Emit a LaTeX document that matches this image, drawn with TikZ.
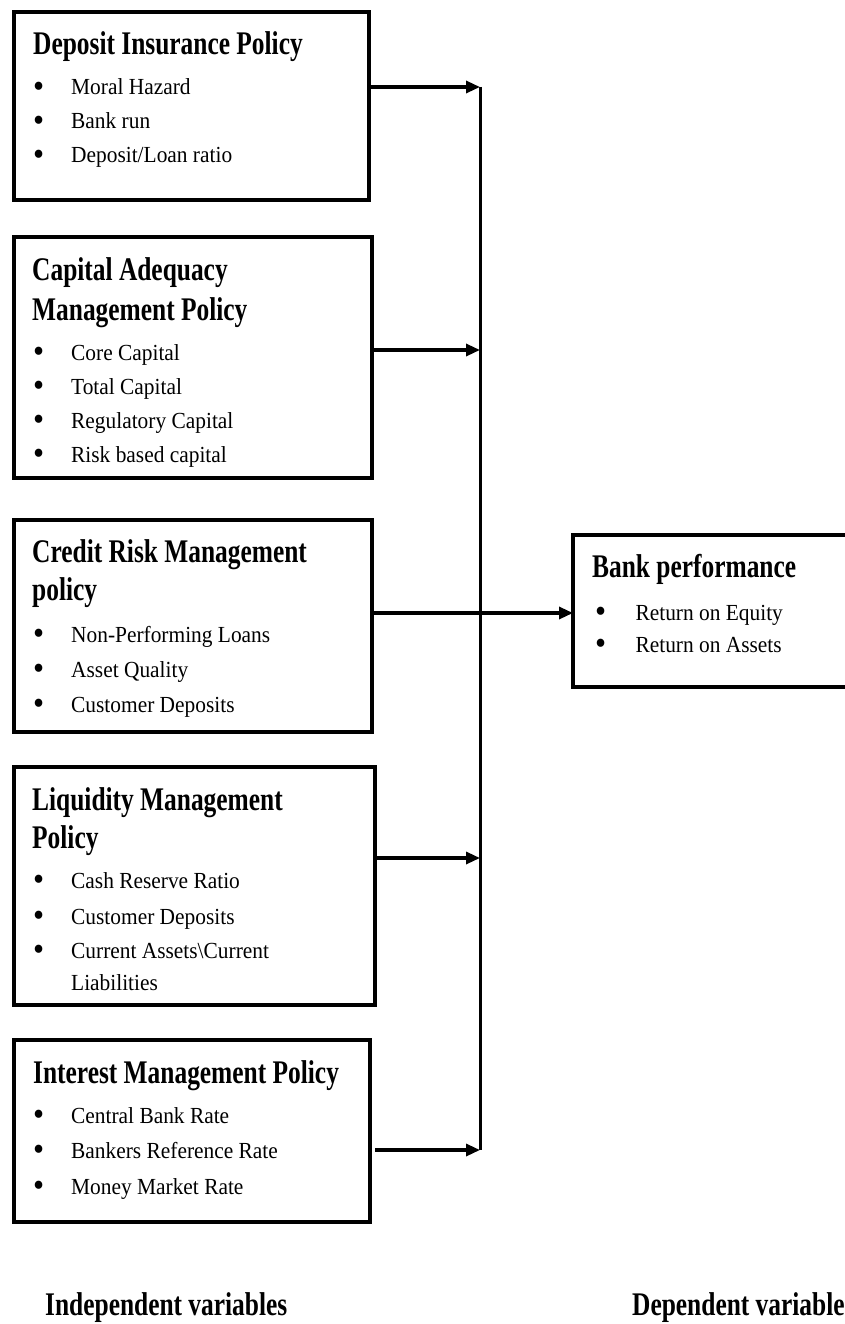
\documentclass[tikz,border=0pt]{standalone}
\usepackage{fontspec}
\setmainfont{Liberation Serif}
\newfontfamily\titlef[FakeStretch=0.77]{Liberation Serif}
\newfontfamily\itemf[FakeStretch=0.93]{Liberation Serif}
\usetikzlibrary{arrows.meta}
\tikzset{
  pbox/.style={draw,line width=3.5pt,inner sep=0pt,outer sep=0pt},
  ttl/.style={anchor=base west,inner sep=0pt,font=\titlef\bfseries\fontsize{33}{33}\selectfont},
  itm/.style={anchor=base west,inner sep=0pt,font=\itemf\fontsize{23}{23}\selectfont},
  arr/.style={line width=3.2pt,-{Triangle[length=14pt,width=12pt]}},
  spine/.style={line width=3pt}
}
\newcommand{\bul}[1][38pt]{\makebox[#1][l]{\raisebox{-2.5pt}{\fontsize{34}{23}\selectfont •}}}
\begin{document}
\begin{tikzpicture}[x=1pt,y=-1pt]
\useasboundingbox (0,0) rectangle (845,1324);
% boxes
\node[pbox,minimum width=355pt,minimum height=188pt] (b1) at (191.5,106) {};
\node[pbox,minimum width=358pt,minimum height=241pt] (b2) at (193,357.5) {};
\node[pbox,minimum width=358pt,minimum height=212pt] (b3) at (193,626) {};
\node[pbox,minimum width=361pt,minimum height=238pt] (b4) at (194.5,886) {};
\node[pbox,minimum width=356pt,minimum height=182pt] (b5) at (192,1131) {};
\node[pbox,minimum width=277pt,minimum height=152pt] (rb) at (711.5,611) {};
% box 1
\node[ttl] (b1t) at (33,55) {Deposit Insurance Policy};
\node[itm] (b1a) at (33,95) {\bul Moral Hazard};
\node[itm] (b1b) at (33,129) {\bul Bank run};
\node[itm] (b1c) at (33,163) {\bul Deposit/Loan ratio};
% box 2
\node[ttl] (b2t) at (32,280) {Capital Adequacy};
\node[ttl] (b2u) at (32,320) {Management Policy};
\node[itm] (b2a) at (33,360) {\bul Core Capital};
\node[itm] (b2b) at (33,394) {\bul Total Capital};
\node[itm] (b2c) at (33,428) {\bul Regulatory Capital};
\node[itm] (b2d) at (33,462) {\bul Risk based capital};
% box 3
\node[ttl] (b3t) at (32,562) {Credit Risk Management};
\node[ttl] (b3u) at (32,600) {policy};
\node[itm] (b3a) at (33,642) {\bul Non-Performing Loans};
\node[itm] (b3b) at (33,677) {\bul Asset Quality};
\node[itm] (b3c) at (33,712) {\bul Customer Deposits};
% box 4
\node[ttl] (b4t) at (32,810) {Liquidity Management};
\node[ttl] (b4u) at (32,848) {Policy};
\node[itm] (b4a) at (33,888) {\bul Cash Reserve Ratio};
\node[itm] (b4b) at (33,924) {\bul Customer Deposits};
\node[itm] (b4c) at (33,958) {\bul Current Assets\textbackslash Current};
\node[itm] (b4d) at (71,990) {Liabilities};
% box 5
\node[ttl] (b5t) at (33,1083) {Interest Management Policy};
\node[itm] (b5a) at (33,1123) {\bul Central Bank Rate};
\node[itm] (b5b) at (33,1158) {\bul Bankers Reference Rate};
\node[itm] (b5c) at (33,1194) {\bul Money Market Rate};
% right box
\node[ttl] (rbt) at (592,577) {Bank performance};
\node[itm] (rba) at (595,620) {\bul[35pt] Return on Equity};
\node[itm] (rbb) at (595,652) {\bul[35pt] Return on Assets};
% bottom labels
\node[ttl] (iv) at (45,1315) {Independent variables};
\node[ttl] (dv) at (632,1315) {Dependent variable};
% connectors
\coordinate (j1) at (480,87);
\coordinate (j2) at (480,350);
\coordinate (j3) at (480,613);
\coordinate (j4) at (480,858);
\coordinate (j5) at (480,1150);
\draw[spine] (j1) -- (j5);
\draw[arr] (b1.east |- j1) -- (j1);
\draw[arr] (b2.east |- j2) -- (j2);
\draw[arr] (b3.east |- j3) -- (rb.west |- j3);
\draw[arr] (b4.east |- j4) -- (j4);
\draw[arr,shorten <=5pt] (b5.east |- j5) -- (j5);
\end{tikzpicture}
\end{document}
